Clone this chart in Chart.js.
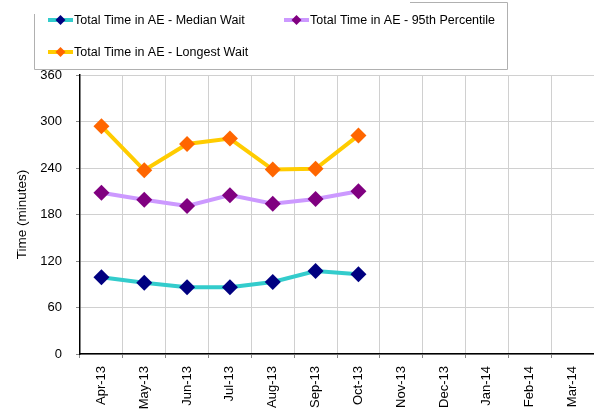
<!DOCTYPE html>
<html>
<head>
<meta charset="utf-8">
<script src="https://cdn.jsdelivr.net/npm/chart.js@4/dist/chart.umd.min.js"></script>
<style>
  html, body { margin: 0; padding: 0; background: #fff; }
  #wrap { width: 594px; height: 411px; }
</style>
</head>
<body>
<div id="wrap"><canvas id="chart" width="594" height="411"></canvas></div>
<script>
var months = ["Apr-13", "May-13", "Jun-13", "Jul-13", "Aug-13", "Sep-13", "Oct-13",
              "Nov-13", "Dec-13", "Jan-14", "Feb-14", "Mar-14"];
var medianWait = [99, 92, 86, 86, 93, 107, 103, null, null, null, null, null];
var pct95 = [208, 199, 191, 205, 194, 200, 210, null, null, null, null, null];
var longestWait = [294, 237, 271, 278, 238, 239, 282, null, null, null, null, null];
var yTicks = [0, 60, 120, 180, 240, 300, 360];

var font = "'Liberation Sans', Arial, sans-serif";

// legend drawn by hand so the rows line up like the original
var legendItems = [
  { text: "Total Time in AE - Median Wait", line: "#33CCCC", point: "#000080", x: 48, y: 20 },
  { text: "Total Time in AE - 95th Percentile", line: "#CC99FF", point: "#800080", x: 284, y: 20 },
  { text: "Total Time in AE - Longest Wait", line: "#FFCC00", point: "#FF6600", x: 48, y: 52 }
];

var legendPlugin = {
  id: "boxLegend",
  afterDraw: function(chart) {
    var c = chart.ctx;
    c.save();
    c.strokeStyle = "#b0b0b0";
    c.lineWidth = 1;
    c.beginPath();
    c.moveTo(34.5, 14);
    c.lineTo(34.5, 69.5);
    c.lineTo(507.5, 69.5);
    c.lineTo(507.5, 2.5);
    c.lineTo(410, 2.5);
    c.stroke();
    legendItems.forEach(function(it) {
      c.strokeStyle = it.line;
      c.lineWidth = 4;
      c.beginPath();
      c.moveTo(it.x, it.y);
      c.lineTo(it.x + 25, it.y);
      c.stroke();
      var cx = it.x + 12.5, r = 5;
      c.fillStyle = it.point;
      c.beginPath();
      c.moveTo(cx, it.y - r);
      c.lineTo(cx + r, it.y);
      c.lineTo(cx, it.y + r);
      c.lineTo(cx - r, it.y);
      c.closePath();
      c.fill();
      c.fillStyle = "#000";
      c.font = "12.5px " + font;
      c.textBaseline = "middle";
      c.fillText(it.text, it.x + 26, it.y + 1);
    });
    c.restore();
  }
};

function ds(label, data, line, point) {
  return {
    label: label,
    data: data,
    borderColor: line,
    backgroundColor: point,
    borderWidth: 4,
    pointStyle: "rectRot",
    pointRadius: 8,
    pointHoverRadius: 8,
    pointBackgroundColor: point,
    pointBorderColor: point,
    pointBorderWidth: 0,
    tension: 0,
    spanGaps: false
  };
}

new Chart(document.getElementById("chart"), {
  type: "line",
  data: {
    labels: months,
    datasets: [
      ds("Total Time in AE - Median Wait", medianWait, "#33CCCC", "#000080"),
      ds("Total Time in AE - 95th Percentile", pct95, "#CC99FF", "#800080"),
      ds("Total Time in AE - Longest Wait", longestWait, "#FFCC00", "#FF6600")
    ]
  },
  options: {
    responsive: false,
    animation: false,
    layout: { autoPadding: false, padding: { top: 75, right: 0, left: 0, bottom: 0 } },
    plugins: {
      legend: { display: false },
      tooltip: { enabled: false }
    },
    scales: {
      x: {
        offset: true,
        grid: { offset: true, color: "#d0d0d0", tickColor: "#888", tickLength: 4, drawTicks: true },
        border: { color: "#000", width: 1.5 },
        ticks: {
          color: "#000",
          font: { family: font, size: 13 },
          minRotation: 90,
          maxRotation: 90,
          autoSkip: false,
          padding: 8
        },
        afterFit: function(s) { s.height = 57; s.paddingRight = 0; s.paddingLeft = 0; }
      },
      y: {
        min: 0,
        max: 360,
        afterBuildTicks: function(s) { s.ticks = yTicks.map(function(v) { return { value: v }; }); },
        grid: { color: "#d0d0d0", tickColor: "#888", tickLength: 4 },
        border: { color: "#000", width: 1.5 },
        ticks: { color: "#000", font: { family: font, size: 13 }, padding: 14 },
        title: { display: true, text: "Time (minutes)", color: "#000", font: { family: font, size: 13.5 }, padding: { top: 14, bottom: 0 } },
        afterFit: function(s) { s.width = 80; s.paddingTop = 0; s.paddingBottom = 0; }
      }
    }
  },
  plugins: [legendPlugin]
});
</script>
</body>
</html>
